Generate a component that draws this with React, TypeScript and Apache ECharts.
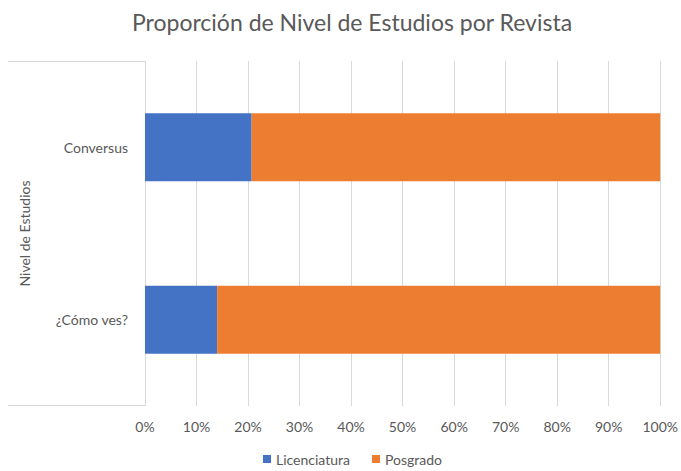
import React, { useEffect, useRef } from "react";
import * as echarts from "echarts";

const categories = ["¿Cómo ves?", "Conversus"];
const licenciatura = [0.14, 0.207];
const posgrado = [0.86, 0.793];
const seriesNames = ["Licenciatura", "Posgrado"];
const titleText = "Proporción de Nivel de Estudios por Revista";
const yAxisTitle = "Nivel de Estudios";

const FONT = "Lato, 'Open Sans', sans-serif";
const GREY = "#595959";
const LINE = "#d9d9d9";

export default function App() {
  const ref = useRef<HTMLDivElement>(null);
  useEffect(() => {
    if (!ref.current) return;
    const chart = echarts.init(ref.current, undefined, { renderer: "svg" });
    chart.setOption({
      animation: false,
      backgroundColor: "#ffffff",
      textStyle: { fontFamily: FONT },
      title: {
        text: titleText,
        left: 127,
        top: 5,
        padding: [5, 5],
        textStyle: { fontFamily: FONT, fontSize: 23, fontWeight: "normal", color: GREY },
      },
      legend: {
        bottom: 0,
        left: 258,
        itemWidth: 8,
        itemHeight: 8,
        itemGap: 22,
        icon: "rect",
        textStyle: { fontFamily: FONT, fontSize: 14, color: GREY },
        data: seriesNames,
      },
      grid: { left: 145, right: 19, top: 61, bottom: 65, containLabel: false },
      xAxis: {
        type: "value",
        min: 0,
        max: 1,
        interval: 0.1,
        axisLine: { show: false },
        axisTick: { show: false },
        splitLine: { show: true, lineStyle: { color: LINE, width: 1 } },
        axisLabel: {
          margin: 13,
          fontFamily: FONT,
          fontSize: 14,
          color: GREY,
          formatter: (v: number) => `${Math.round(v * 100)}%`,
        },
      },
      yAxis: {
        type: "category",
        data: categories,
        name: yAxisTitle,
        nameLocation: "middle",
        nameGap: 114,
        nameRotate: 90,
        nameTextStyle: { fontFamily: FONT, fontSize: 14, color: GREY },
        axisLine: { show: false },
        axisTick: { show: false },
        axisLabel: { margin: 17, fontFamily: FONT, fontSize: 14, color: GREY },
      },
      graphic: [
        { type: "line", shape: { x1: 8, y1: 61.5, x2: 145, y2: 61.5 }, style: { stroke: LINE, lineWidth: 1 } },
        { type: "line", shape: { x1: 8, y1: 405.5, x2: 145, y2: 405.5 }, style: { stroke: LINE, lineWidth: 1 } },
      ],
      series: [
        {
          name: seriesNames[0],
          type: "bar",
          stack: "total",
          barWidth: 68,
          itemStyle: { color: "#4472C4" },
          data: licenciatura,
        },
        {
          name: seriesNames[1],
          type: "bar",
          stack: "total",
          barWidth: 68,
          itemStyle: { color: "#ED7D31" },
          data: posgrado,
        },
      ],
    });
    return () => chart.dispose();
  }, []);
  return <div ref={ref} style={{ width: 681, height: 471, position: "absolute", left: 0, top: 0 }} />;
}
